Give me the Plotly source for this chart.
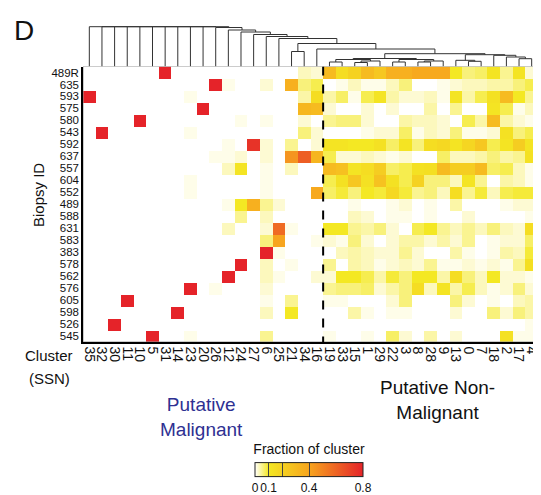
import plotly.graph_objects as go

# ---------------- data ----------------
biopsy_ids = ["489R", "635", "593", "575", "580", "543", "592", "637", "557", "604", "552",
              "489", "588", "631", "583", "383", "578", "562", "576", "605", "598", "526", "545"]

malignant_clusters = ["35", "32", "30", "11", "10", "5", "31", "14", "23", "20", "26", "12",
                      "24", "27", "6", "25", "21", "34", "16"]
nonmalignant_clusters = ["19", "33", "15", "1", "29", "22", "3", "8", "28", "9", "13", "0",
                         "7", "18", "2", "17", "4"]

# fraction of each cluster per biopsy, putative malignant clusters (19 columns)
malignant_fraction = [
    [0, 0, 0, 0, 0, 0, .80, 0, 0, 0, 0, 0, 0, 0, 0, 0, 0, .03, .02],
    [0, 0, 0, 0, 0, 0, 0, 0, 0, 0, .80, .01, 0, 0, .02, 0, .35, .06, .08],
    [.80, 0, 0, 0, 0, 0, 0, 0, .01, 0, 0, 0, 0, 0, 0, 0, 0, .04, .15],
    [0, 0, 0, 0, 0, 0, 0, 0, 0, .80, 0, 0, 0, 0, 0, 0, 0, .32, .30],
    [0, 0, 0, 0, .80, 0, 0, 0, 0, 0, 0, 0, .01, 0, .01, 0, 0, .02, 0],
    [0, .80, 0, 0, 0, 0, 0, 0, .01, 0, 0, 0, 0, 0, 0, 0, 0, .06, .02],
    [0, 0, 0, 0, 0, 0, 0, 0, 0, 0, 0, .01, 0, .75, .02, 0, .05, 0, .02],
    [0, 0, 0, 0, 0, 0, 0, 0, 0, 0, .01, .01, .02, 0, .02, 0, .45, .62, .33],
    [0, 0, 0, 0, 0, 0, 0, 0, 0, 0, 0, .03, .12, 0, .01, 0, .03, 0, 0],
    [0, 0, 0, 0, 0, 0, 0, 0, .01, 0, 0, 0, 0, 0, .01, 0, 0, 0, 0],
    [0, 0, 0, 0, 0, 0, 0, 0, .01, 0, 0, 0, 0, 0, .01, 0, 0, 0, .38],
    [0, 0, 0, 0, 0, 0, 0, 0, 0, 0, 0, .01, .10, .35, .05, .02, 0, 0, 0],
    [0, 0, 0, 0, 0, 0, 0, 0, 0, 0, 0, 0, .05, 0, .03, 0, 0, 0, 0],
    [0, 0, 0, 0, 0, 0, 0, 0, 0, 0, 0, .03, 0, 0, .02, .58, .01, 0, 0],
    [0, 0, 0, 0, 0, 0, 0, 0, 0, 0, 0, 0, 0, 0, .06, .40, 0, 0, .01],
    [0, 0, 0, 0, 0, 0, 0, 0, 0, 0, 0, 0, 0, 0, .80, .01, 0, 0, 0],
    [0, 0, 0, 0, 0, 0, 0, 0, 0, 0, 0, 0, .80, 0, .03, 0, .01, 0, 0],
    [0, 0, 0, 0, 0, 0, 0, 0, 0, 0, 0, .80, 0, 0, .03, .01, 0, 0, .02],
    [0, 0, 0, 0, 0, 0, 0, 0, .80, 0, .01, 0, 0, 0, .02, 0, 0, 0, 0],
    [0, 0, 0, .80, 0, 0, 0, 0, 0, 0, 0, 0, 0, 0, .01, 0, .05, 0, 0],
    [0, 0, 0, 0, 0, 0, 0, .80, 0, 0, 0, 0, 0, 0, .03, 0, .10, 0, 0],
    [0, 0, .80, 0, 0, 0, 0, 0, 0, 0, 0, 0, 0, 0, 0, 0, 0, 0, 0],
    [0, 0, 0, 0, 0, .80, 0, 0, .01, 0, 0, 0, 0, 0, .05, 0, 0, 0, 0],
]

# fraction of each cluster per biopsy, putative non-malignant clusters (17 columns)
nonmalignant_fraction = [
    [.30, .15, .20, .30, .25, .35, .35, .38, .38, .38, .10, .06, .07, .12, .05, .12, .02],
    [0, .01, .03, .01, .01, .03, .06, 0, 0, .01, .02, .03, .03, .04, .04, .06, .08],
    [.04, .07, .01, .08, .12, .04, .02, .02, .03, .01, .12, .04, .08, .13, .30, .10, .05],
    [.02, 0, 0, .02, 0, .02, 0, 0, .04, 0, .05, 0, 0, .12, .08, .01, .03],
    [.05, .06, .06, .02, 0, 0, .04, .03, .03, .02, 0, .08, .04, .30, .04, .02, .01],
    [0, 0, 0, .01, .02, .02, .07, .01, .03, .02, .06, .01, .01, .02, .13, .06, .08],
    [.12, .12, .10, .10, .13, .07, .12, .06, .15, .17, .12, .18, .25, .08, .12, .22, .12],
    [.08, .02, .02, .03, .02, .01, .02, 0, 0, .07, .03, .03, .04, .06, .04, .05, .13],
    [.30, .28, .12, .15, .22, .07, .08, .13, .14, .30, .22, .22, .30, .07, .08, .03, .01],
    [.08, .13, .25, .13, .27, .13, .08, .20, .06, .06, .03, .12, .05, 0, .04, .03, .01],
    [.07, .09, .06, .10, .09, .17, .09, .05, .06, .03, .15, .05, .09, .03, .08, .09, .09],
    [0, 0, .01, 0, 0, .01, .02, 0, .01, 0, .04, 0, 0, 0, .01, .02, .02],
    [0, 0, .03, .02, 0, .01, .01, 0, .01, 0, 0, .02, 0, 0, 0, 0, .01],
    [.10, .10, .05, .04, .06, .02, 0, .08, .10, .05, .03, .05, .03, .06, .03, .02, .15],
    [.02, .01, .06, .02, 0, .02, .04, .04, .02, .04, .02, .05, 0, .01, .02, .02, .07],
    [0, .03, .04, .03, .02, .02, .05, .02, 0, 0, .04, .01, 0, .01, .04, .03, .09],
    [.05, 0, .04, .03, .01, .02, .03, .02, .05, .01, .01, .02, .01, .02, .01, .05, .14],
    [.02, .10, .10, .08, .04, .09, .06, .10, .10, .04, .15, .06, .03, .10, .02, .02, .01],
    [.05, .06, .06, .07, .02, .04, .06, .15, .03, .12, .04, .08, .03, .01, .02, .06, .02],
    [.01, .01, 0, 0, 0, .02, .06, 0, 0, 0, .06, .02, 0, .01, 0, .03, .04],
    [0, 0, .04, .01, 0, .01, .01, 0, 0, 0, .02, 0, 0, .06, .02, .06, .04],
    [0, 0, 0, 0, 0, 0, 0, 0, 0, 0, 0, 0, 0, 0, 0, 0, .01],
    [.01, 0, 0, .01, 0, .07, .02, 0, .04, 0, .02, 0, 0, 0, .13, .01, .01],
]

# dendrogram merges over column positions: (name, left, right, height)
dendro_merges = [
    ("a", 34, 35, 7.8), ("b", 33, "a", 9.5), ("c", 32, "b", 11.2),
    ("d", 30, 31, 5.2), ("e", 29, "d", 6.2), ("RR", "e", "c", 11.8),
    ("f", 19, 20, 4.5), ("g", 21, 22, 4.0), ("h", "g", 23, 5.5), ("RL1", "f", "h", 7.0),
    ("i", 24, 25, 4.5), ("j", 26, 27, 4.5), ("k", "j", 28, 5.5), ("RL2", "i", "k", 7.0),
    ("RL", "RL1", "RL2", 8.0), ("R", "RL", "RR", 12.8),
    ("S18", 18, "R", 17.5), ("p", 16, 17, 15.0), ("S16", "p", "S18", 23.0),
    ("N15", 15, "S16", 28.0), ("N14", 14, "N15", 30.0), ("N13", 13, "N14", 32.0),
    ("N12", 12, "N13", 34.5), ("N11", 11, "N12", 36.5), ("N10", 10, "N11", 39.0),
    ("N9", 9, "N10", 39.8), ("N8", 8, "N9", 39.8), ("N7", 7, "N8", 39.8),
    ("N6", 6, "N7", 39.8), ("N5", 5, "N6", 39.8), ("N4", 4, "N5", 39.8),
    ("N3", 3, "N4", 39.8), ("N2", 2, "N3", 39.8), ("N1", 1, "N2", 39.8),
    ("N0", 0, "N1", 39.8),
]

colorbar_ticks = [0, 0.1, 0.2, 0.4, 0.8]
colorbar_ticktext = ["0", "0.1", "", "0.4", "0.8"]

# ---------------- figure ----------------
OFF = 8                      # default page margin of the html body
W, H = 541 - OFF, 495 - OFF
FONT = "Arial, Liberation Sans, Helvetica, sans-serif"

clusters = malignant_clusters + nonmalignant_clusters
fraction = [m + n for m, n in zip(malignant_fraction, nonmalignant_fraction)]
ncol, nrow = len(clusters), len(biopsy_ids)


def px_x(p):  # screen pixel -> paper fraction
    return (p - OFF) / W


def px_y(p):
    return (H - (p - OFF)) / H


heat_left, heat_right, heat_top, heat_bottom = 83, 538, 66.5, 342
dendro_top = 20

fig = go.Figure()

fig.add_trace(go.Heatmap(
    z=fraction, x=list(range(ncol)), y=list(range(nrow)),
    zmin=0, zmax=0.8,
    colorscale=[[0, "#ffffff"], [0.125, "#f4e823"], [0.5, "#f7a51e"], [1, "#e52329"]],
    xgap=0, ygap=0,
    colorbar=dict(
        orientation="h", x=px_x(309), xanchor="center", y=px_y(510), yanchor="bottom",
        len=108, lenmode="pixels", thickness=14, thicknessmode="pixels",
        xpad=0, ypad=0, outlinecolor="#222", outlinewidth=1,
        tickvals=colorbar_ticks, ticktext=colorbar_ticktext, tickangle=0,
        ticks="inside", ticklen=14, tickcolor="#444", tickwidth=1,
        tickfont=dict(family=FONT, size=12, color="#111"),
        title=dict(text="Fraction of cluster", side="top",
                   font=dict(family=FONT, size=14, color="#111")),
    ),
    showscale=True,
))

# dendrogram from merges
pos = {i: (float(i), 0.0) for i in range(ncol)}
dx, dy = [], []
for name, left, right, h in dendro_merges:
    xl, hl = pos[left]
    xr, hr = pos[right]
    dx += [xl, xl, xr, xr, None]
    dy += [hl, h, h, hr, None]
    pos[name] = ((xl + xr) / 2, h)

fig.add_trace(go.Scatter(x=dx, y=dy, mode="lines", line=dict(color="#333", width=1),
                         xaxis="x2", yaxis="y2", hoverinfo="skip", showlegend=False))

fig.update_layout(
    width=W, height=H, margin=dict(l=0, r=0, t=0, b=0, autoexpand=False),
    paper_bgcolor="white", plot_bgcolor="white",
    xaxis=dict(domain=[px_x(heat_left), px_x(heat_right)], range=[-0.5, ncol - 0.5],
               tickvals=list(range(ncol)), ticktext=clusters, tickangle=90,
               tickfont=dict(family=FONT, size=14, color="#111"), automargin=False,
               showline=True, linecolor="black", linewidth=1.5, ticks="",
               showgrid=False, zeroline=False, anchor="y"),
    yaxis=dict(domain=[px_y(heat_bottom), px_y(heat_top)], range=[nrow - 0.5, -0.5],
               tickvals=list(range(nrow)), ticktext=biopsy_ids, automargin=False,
               tickfont=dict(family=FONT, size=11.5, color="#111"),
               showline=True, linecolor="black", linewidth=1.5, ticks="",
               showgrid=False, zeroline=False, anchor="x"),
    xaxis2=dict(domain=[px_x(heat_left), px_x(heat_right)], range=[-0.5, ncol - 0.5],
                visible=False, anchor="y2"),
    yaxis2=dict(domain=[px_y(heat_top), px_y(dendro_top)], range=[0, heat_top - dendro_top],
                visible=False, anchor="x2"),
    font=dict(family=FONT, color="#111"),
)

# thin frame around heatmap (top/right)
fig.add_shape(type="rect", xref="x", yref="y", x0=-0.5, x1=ncol - 0.5, y0=-0.5, y1=nrow - 0.5,
              line=dict(color="#999", width=1))
# dashed separator between malignant and non-malignant clusters
sep = len(malignant_clusters) - 0.5
fig.add_shape(type="line", xref="x", yref="y", x0=sep, x1=sep, y0=-0.5, y1=nrow - 0.2,
              line=dict(color="black", width=2, dash="dash"))

ann = [
    dict(text="D", x=px_x(24), y=px_y(30), size=28, color="#111"),
    dict(text="Biopsy ID", x=px_x(38), y=px_y(195), size=15, color="#111", angle=-90),
    dict(text="Cluster", x=px_x(49), y=px_y(356), size=15, color="#111"),
    dict(text="(SSN)", x=px_x(49), y=px_y(378), size=15, color="#111"),
    dict(text="Putative<br>Malignant", x=px_x(201), y=px_y(417), size=19, color="#2e3092"),
    dict(text="Putative Non-<br>Malignant", x=px_x(437), y=px_y(400), size=19, color="#111"),
]
for a in ann:
    fig.add_annotation(text=a["text"], x=a["x"], y=a["y"], xref="paper", yref="paper",
                       xanchor="center", yanchor="middle", showarrow=False,
                       textangle=a.get("angle", 0),
                       font=dict(family=FONT, size=a["size"], color=a["color"]))

fig.write_html("out.html")
